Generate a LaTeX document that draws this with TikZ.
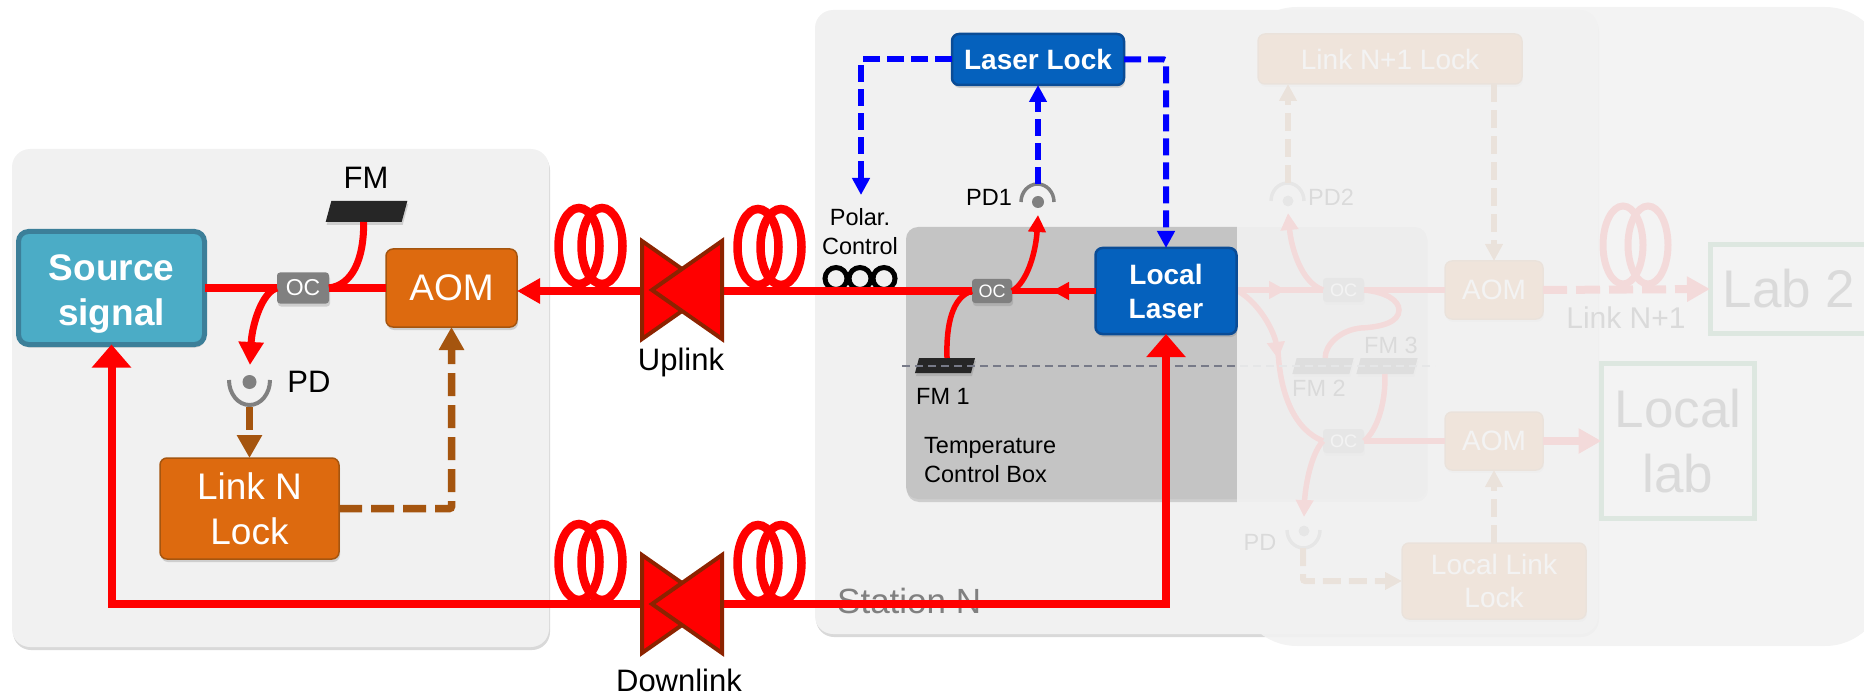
\documentclass[tikz,border=0pt]{standalone}
\usepackage{fontspec}
\setmainfont{Liberation Sans}
\usetikzlibrary{arrows.meta, positioning, shadows}
\definecolor{panel}{HTML}{F1F1F1}
\definecolor{srcfill}{HTML}{4BACC6}
\definecolor{srcline}{HTML}{3C7F99}
\definecolor{orfill}{HTML}{DD6A0F}
\definecolor{orline}{HTML}{A5550F}
\definecolor{blfill}{HTML}{0561BD}
\definecolor{blline}{HTML}{0A4C96}
\definecolor{bowline}{HTML}{8C2300}
\definecolor{mirror}{HTML}{262626}
\definecolor{labgreen}{HTML}{228B3C}
\definecolor{boxdash}{HTML}{777A88}
\begin{document}
\begin{tikzpicture}[x=1pt, y=-1pt,
  ft/.style 2 args={font=\fontsize{#1}{#2}\selectfont},
  shd/.style={drop shadow={shadow xshift=1pt, shadow yshift=-3pt, opacity=.3}},
  panelbox/.style={fill=panel, rounded corners=18pt, shd},
  bx/.style={rectangle, draw, rounded corners=7pt, inner sep=0pt, outer sep=0pt, align=center, text=white, shd},
  orbox/.style={bx, fill=orfill, draw=orline, line width=1.5pt},
  blbox/.style={bx, fill=blfill, draw=blline, line width=2.5pt, font=\fontsize{28}{34}\selectfont\bfseries},
  ocn/.style={rectangle, fill=black!50, rounded corners=3pt, inner sep=0pt, outer sep=0pt, text=white, shd},
  fm/.style={rectangle, fill=mirror, xslant=.27, inner sep=0pt, outer sep=0pt, shd},
  dot/.style={circle, fill=black!50, inner sep=0pt, outer sep=0pt},
  cup/.style={draw=black!50, line width=3.5pt},
  lbl/.style={inner sep=0pt, ft={31}{37}},
  sm/.style={inner sep=0pt, align=center, ft={23.5}{29}},
  fib/.style={draw=red, line width=8pt},
  fibs/.style={draw=red, line width=5.5pt},
  coil/.style={draw=red, line width=8.5pt},
  bow/.style={fill=red, draw=bowline, line width=4pt},
  lab/.style={rectangle, draw=labgreen, line width=5pt, inner sep=0pt, outer sep=0pt, align=center, ft={53}{65}},
  brd/.style={draw=orline, line width=7.5pt, dash pattern=on 23pt off 9pt, rounded corners=2pt},
  brds/.style={draw=orline, line width=6pt, dash pattern=on 18pt off 8pt, rounded corners=2pt},
  bld/.style={draw=blue, line width=6pt, dash pattern=on 17pt off 7pt, rounded corners=2pt},
  larr/.style={-{Triangle[length=23pt,width=24pt]}},
  sarr/.style={-{Triangle[length=17pt,width=17pt]}},
  bigarr/.style={{Triangle[length=23pt,width=38pt]}-{Triangle[length=23pt,width=38pt]}}]
  \useasboundingbox (0,0) rectangle (1864,695);
  \begin{scope}
  \clip (0,0) rectangle (1864,695);
  \fill[panelbox] (12,149) rectangle (549,647);
  \fill[panelbox] (815,10) rectangle (1598,634);
  \fill[fill=black!23, rounded corners=12pt, shd] (906,227) rectangle (1427,499);
  \node[anchor=west, inner sep=0pt, text=black!50, ft={35}{42}] (stn) at (837,601) {Station N};
  \node[sm, anchor=west, align=left] (tbox) at (924,460) {Temperature\\Control Box};

  \coordinate (lzE) at (1237,290);
  \coordinate (lzEb) at (1238,291);
  \node[orbox, minimum width=264pt, minimum height=50pt, ft={28}{33}] (lk2) at (1390,59) {Link N+1 Lock};
  \node[orbox, minimum width=98pt, minimum height=58pt, ft={28}{33}] (aom2) at (1494,290) {AOM};
  \node[orbox, minimum width=98pt, minimum height=58pt, ft={28}{33}] (aom3) at (1494,441) {AOM};
  \node[orbox, minimum width=184pt, minimum height=76pt, ft={28}{33}] (llk) at (1494,581) {Local Link\\Lock};
  \node[ocn, minimum width=41pt, minimum height=24pt, ft={18}{20}] (oc3) at (1343.5,290) {OC};
  \node[ocn, minimum width=41pt, minimum height=24pt, ft={18}{20}] (oc4) at (1343.5,441) {OC};
  \node[fm, minimum width=57pt, minimum height=16pt] (fm2) at (1323,366) {};
  \node[fm, minimum width=57pt, minimum height=16pt] (fm3) at (1387,366) {};
  \node[sm] (fm2t) at (1319,388) {FM 2};
  \node[sm] (fm3t) at (1391,345) {FM 3};
  \node[dot, minimum size=11pt] (pd2) at (1288,201) {};
  \node[dot, minimum size=11pt] (pd3) at (1304,531) {};
  \coordinate (pd2top) at (1288,183);
  \coordinate (pd2in) at (1288,213);
  \coordinate (pd3bot) at (1303,548);
  \coordinate (pd3in) at (1304,517);
  \draw[cup] (1271,201) arc [start angle=180, end angle=0, x radius=16.5pt, y radius=18pt];
  \draw[cup] (1287,530) arc [start angle=180, end angle=360, x radius=16.5pt, y radius=18pt];
  \node[sm] (pd2t) at (1331,197) {PD2};
  \node[sm] (pd3t) at (1260,542) {PD};
  \node[lab, minimum width=158pt, minimum height=88pt] (lab2) at (1789,289) {Lab 2};
  \node[lab, minimum width=153pt, minimum height=155pt] (lab3) at (1678,441) {Local\\lab};
  \node[lbl, ft={30}{36}] (lnk) at (1626,318) {Link N+1};
  \foreach \cx in {1623,1648}
    \draw[coil, line width=7pt] (\cx,245) ellipse [x radius=20pt, y radius=39pt];
  \draw[fibs] (lzE) -- (1270,290);
  \draw[fibs, sarr] (lzE) -- (1286,290);
  \draw[fibs] (1270,290) -- (oc3.west);
  \draw[fib, line width=6pt] (oc3.east) -- (aom2.west);
  \draw[fib, line width=6pt] (oc4.east) -- (aom3.west);
  \draw[fibs, sarr] (oc3.west) .. controls (1300,282) and (1291,245) .. (pd2in);
  \draw[fibs, sarr] (lzEb) .. controls (1262,305) and (1275,335) .. (1278,359);
  \draw[fibs] (1278,350) .. controls (1280,395) and (1295,430) .. (oc4.west);
  \draw[fibs] (oc3.east) .. controls (1385,292) and (1399,300) .. (1399,310) .. controls (1399,322) and (1382,327) .. (1361,328) .. controls (1340,330) and (1325,345) .. (fm2.north);
  \draw[fibs] (fm3.south) .. controls (1386,400) and (1378,430) .. (oc4.east);
  \draw[fibs, sarr] (oc4.west) .. controls (1310,455) and (1305,490) .. (pd3in);
  \draw[fib, larr] (aom3.east) -- (lab3.west);
  \draw[fib, dash pattern=on 24pt off 9pt, larr] (aom2.east) -- (lab2.west);
  \draw[brds, sarr] (pd2top) -- (pd2top |- lk2.south);
  \draw[brds, sarr] (aom2.north |- lk2.south) -- (aom2.north);
  \draw[brds, sarr] (pd3bot) |- (llk.west);
  \draw[brds, sarr] (llk.north) -- (aom3.south);

  \node[fm, minimum width=56pt, minimum height=15pt] (fm1) at (945,365.5) {};
  \draw[draw=boxdash, line width=1.5pt, dash pattern=on 8pt off 5pt] (902,366) -- (1435,366);
  \fill[fill=black!5, opacity=.9, rounded corners=60pt] (1237,7) rectangle (1885,646);

  \node[bx, fill=srcfill, draw=srcline, line width=5pt, rounded corners=10pt, minimum width=186pt, minimum height=113pt, font=\fontsize{37}{45}\selectfont\bfseries] (src) at (111.5,288) {\rule{0pt}{37pt}Source\\signal};
  \node[orbox, minimum width=131pt, minimum height=78pt, ft={37}{45}] (aom) at (451.5,288) {AOM};
  \node[orbox, minimum width=179pt, minimum height=101pt, ft={37}{45}] (lkn) at (249.5,508.5) {Link N\\Lock};
  \node[ocn, minimum width=52pt, minimum height=31pt, ft={23}{25}] (oc) at (303,288) {OC};
  \node[fm, minimum width=76pt, minimum height=21pt] (fm) at (366.5,211.5) {};
  \node[lbl] (fmt) at (366,178) {FM};
  \node[dot, minimum size=14pt] (pd) at (249.5,382) {};
  \coordinate (pdbot) at (249.5,407);
  \coordinate (pdin) at (250,365);
  \draw[cup, line width=4pt] (229,380) arc [start angle=180, end angle=360, x radius=20.5pt, y radius=25pt];
  \node[lbl] (pdt) at (309,382) {PD};
  \node[blbox, minimum width=172pt, minimum height=51pt] (lk) at (1038,59.5) {Laser Lock};
  \node[blbox, minimum width=141pt, minimum height=86pt] (lz) at (1166,291) {Local\\Laser};
  \node[ocn, minimum width=40pt, minimum height=24pt, ft={18}{20}] (oc2) at (992,291) {OC};
  \node[sm] (fm1t) at (943,396) {FM 1};
  \node[dot, minimum size=12pt] (pd1) at (1038,202) {};
  \coordinate (pd1top) at (1038,184);
  \coordinate (pd1in) at (1038,215);
  \coordinate (polin) at (861,195);
  \draw[cup] (1021,202) arc [start angle=180, end angle=0, x radius=16.5pt, y radius=18pt];
  \node[sm] (pd1t) at (989,197) {PD1};
  \node[sm] (polar) at (860,232) {Polar.\\Control};
  \node[lbl] (up) at (681,362) {Uplink};
  \node[lbl] (down) at (679,680) {Downlink};
  \coordinate (dlink) at (680,604);

  \foreach \cx in {836,860,884}
    \draw[line width=5pt] (\cx,278.5) circle [radius=11pt];
  \draw[fib] (src.east) -- (oc.west);
  \draw[fib] (oc.east) -- (aom.west);
  \draw[fib, larr] (oc2.west) -- (oc2.west -| aom.east);
  \draw[fib, bigarr] (src.south) |- (dlink) -| (lz.south);
  \draw[fib, line width=7pt] (oc.east) .. controls (352,285) and (364,260) .. (fm.south);
  \draw[fib, line width=7pt, larr] (oc.west) .. controls (262,292) and (252,325) .. (pdin);
  \draw[fibs] (oc2.west) .. controls (952,297) and (946,325) .. (fm1.north);
  \draw[fibs, sarr] (oc2.east) .. controls (1028,282) and (1036,250) .. (pd1in);
  \draw[fibs] (lz.west) -- (oc2.east);
  \draw[fibs, sarr] (lz.west) -- ([xshift=40pt]oc2.east);
  \draw[brd, larr] (pdbot) -- (lkn.north);
  \draw[brd, larr] (lkn.east) -| (aom.south);
  \draw[bld, sarr] (lk.west) -| (polin);
  \draw[bld, sarr] (lk.east) -| (lz.north);
  \draw[bld, sarr] (pd1top) -- (lk.south);
  \foreach \cx/\cy in {579/246, 602/246, 758/247, 781/247, 579/562, 602/562, 758/563, 781/563}
    \draw[coil] (\cx,\cy) ellipse [x radius=20.5pt, y radius=38pt];
  \foreach \y in {290,604} {
    \draw[bow] (642,\y-49) -- (642,\y+49) -- (712,\y) -- cycle;
    \draw[bow] (722,\y-49) -- (722,\y+49) -- (652,\y) -- cycle;
  }
  \end{scope}
\end{tikzpicture}
\end{document}
